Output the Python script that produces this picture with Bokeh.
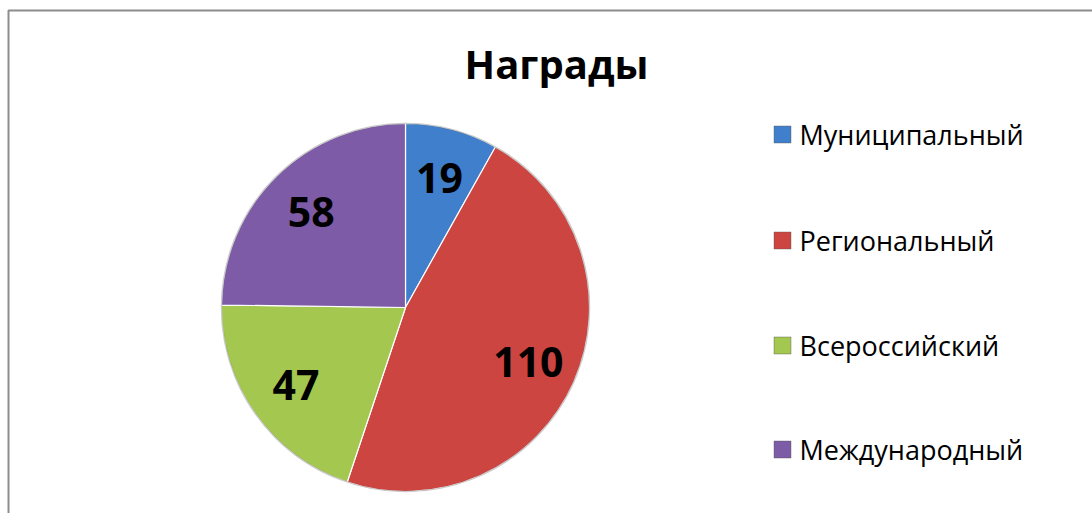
import numpy as np
from bokeh.plotting import figure
from bokeh.models import Range1d, ColumnDataSource
from bokeh.core.properties import value
from bokeh.embed import file_html
from bokeh.resources import INLINE

# ---- data ----
categories = ["Муниципальный", "Региональный", "Всероссийский", "Международный"]
values = [19, 110, 47, 58]
colors = ["#3F7FCB", "#CC4541", "#A3C74F", "#7D5BA6"]
title_text = "Награды"

W, H = 1092, 513
p = figure(width=W, height=H, output_backend="svg", toolbar_location=None,
           x_range=Range1d(0, W), y_range=Range1d(0, H), min_border=0)
p.axis.visible = False
p.grid.visible = False
p.outline_line_color = None
p.background_fill_color = "white"

def Y(py):
    return H - py

# chart frame
p.line([8, 8, W + 5], [Y(H + 5), Y(10), Y(10)], line_color="#8C8C8C", line_width=2)

# pie
cx, cy, r = 405, Y(307), 184
vals = np.array(values, dtype=float)
frac = vals / vals.sum()
ends = np.cumsum(frac) * 2 * np.pi
starts = ends - frac * 2 * np.pi
src = ColumnDataSource(dict(start=np.pi / 2 - starts, end=np.pi / 2 - ends, color=colors))
p.wedge(x=cx, y=cy, radius=r, start_angle="start", end_angle="end", direction="clock",
        fill_color="color", line_color="white", line_width=1.2, source=src)
# subtle rim
p.circle(x=cx, y=cy, radius=r, fill_color=None, line_color="#6b6b6b", line_alpha=0.35, line_width=1.5)

mid = (starts + ends) / 2
lr = 0.73 * r
lx = cx + lr * np.sin(mid)
ly = cy + lr * np.cos(mid)
p.text(x=lx, y=ly, text=[str(v) for v in values], text_align="center", text_baseline="middle",
       text_font=value("Open Sans"), text_font_style="bold", text_font_size="41px", text_color="black")

# title
p.text(x=[556], y=[Y(63)], text=[title_text], text_align="center", text_baseline="middle",
       text_font=value("Open Sans"), text_font_style="bold", text_font_size="40px", text_color="black")

# legend
ly_px = [134, 240, 345, 449]
p.rect(x=[782] * 4, y=[Y(v) for v in ly_px], width=17, height=17, fill_color=colors,
       line_color="#555555", line_alpha=0.5, line_width=0.8)
p.text(x=[799] * 4, y=[Y(v) for v in ly_px], text=categories, text_align="left", text_baseline="middle",
       text_font=value("Open Sans"), text_font_size="27px", text_color="black")

open("out.html", "w").write(file_html(p, INLINE))
